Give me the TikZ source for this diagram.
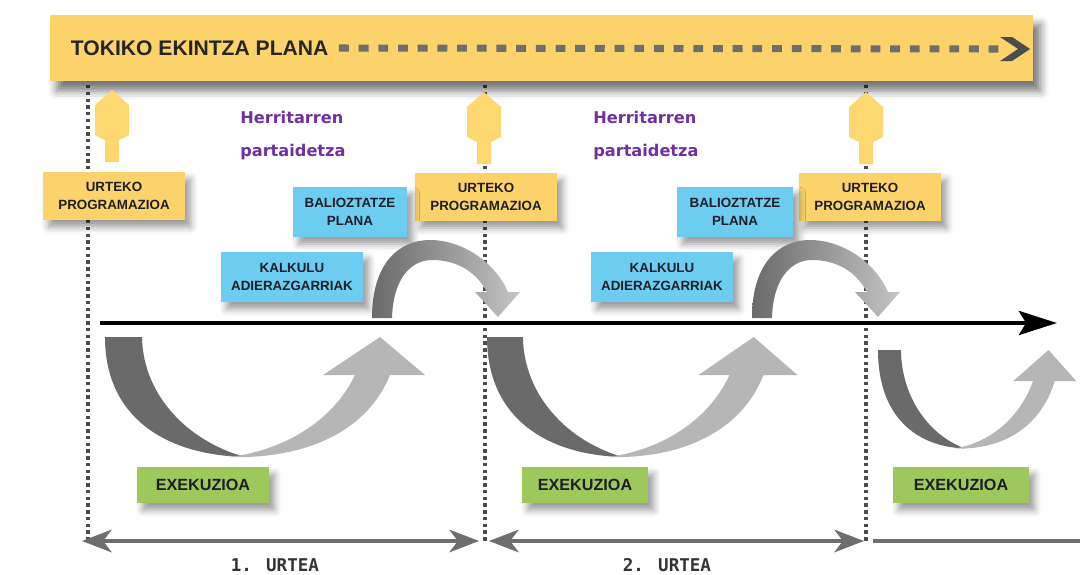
\documentclass[tikz,border=0pt]{standalone}
\usepackage{fontspec}
\setmainfont{Liberation Sans}
\newfontfamily\herrifont{DejaVu Sans}
\newfontfamily\urteafont{DejaVu Sans Mono}
\usetikzlibrary{arrows.meta, positioning, shadows.blur}

\definecolor{planyellow}{HTML}{FCD36B}
\definecolor{arrowyellow}{HTML}{FDD870}
\definecolor{planblue}{HTML}{6CCDF0}
\definecolor{exegreen}{HTML}{9DC95C}
\definecolor{herripurple}{HTML}{7030A0}
\definecolor{ugray}{HTML}{6A6A6A}
\definecolor{ulight}{HTML}{B6B6B6}
\definecolor{linegray}{HTML}{6E6E6E}
\definecolor{boxtext}{HTML}{1E1E28}

\tikzset{
  boxshadow/.style={blur shadow={shadow xshift=4pt, shadow yshift=-5pt, shadow blur radius=5pt, shadow opacity=40}},
  programa/.style={fill=planyellow, minimum width=3.55cm, minimum height=1.2cm, align=center, font=\fontsize{9.5}{12.5}\selectfont\bfseries, text=boxtext, boxshadow},
  balio/.style={programa, fill=planblue},
  exekuzio/.style={fill=exegreen, minimum width=3.3cm, minimum height=0.9cm, font=\fontsize{11.5}{13}\selectfont\bfseries, text=boxtext, boxshadow},
  herri/.style={text=herripurple, font=\herrifont\fontsize{11.5}{13}\selectfont\bfseries, inner sep=0pt},
  urtea/.style={text=black!80, font=\urteafont\fontsize{12.5}{14}\selectfont\bfseries},
  vline/.style={draw=black!70, line width=2.2pt, dash pattern=on 2.4pt off 2.4pt},
  yearline/.style={draw=linegray, line width=3pt},
  uparrow/.pic={
    \fill[arrowyellow] (0,0) -- (17,15) -- (17,45) -- (7,50) -- (7,72) -- (-7,72) -- (-7,50) -- (-17,45) -- (-17,15) -- cycle;
  },
  arch/.pic={
    \shade[left color=ugray, right color=ulight!80] (0,0) .. controls (0,-56) and (28,-78) .. (58,-78) .. controls (90,-78) and (123,-56) .. (136,-26) -- (148,-26) -- (126,-1) -- (103,-26) -- (115,-26) .. controls (103,-48) and (83,-58) .. (60,-58) .. controls (38,-58) and (21,-38) .. (20,0) -- cycle;
  },
  uturn/.pic={
    \fill[ugray] (0,0) -- (37,0) .. controls (38,60) and (85,105) .. (140,120) .. controls (60,118) and (0,80) .. (0,0) -- cycle;
    \fill[ulight] (125,120) .. controls (200,122) and (262,95) .. (285,38) -- (320,38) -- (275,0) -- (218,38) -- (250,38) .. controls (230,80) and (185,112) .. (125,120) -- cycle;
  }
}

\begin{document}
\begin{tikzpicture}[x=0.025cm, y=-0.025cm, >=Stealth]
\useasboundingbox (0,0) rectangle (1080,574);

% year borders
\coordinate (v1top) at (88,85);   \coordinate (v1bot) at (88,542);
\coordinate (v2top) at (485,85);  \coordinate (v2bot) at (485,542);
\coordinate (v3top) at (866,85);  \coordinate (v3bot) at (866,542);
\draw[vline] (v1top) -- (v1bot);
\draw[vline] (v2top) -- (v2bot);
\draw[vline] (v3top) -- (v3bot);

% plan bar
\node[fill=planyellow, minimum width=24.575cm, minimum height=1.65cm, blur shadow={shadow xshift=5pt, shadow yshift=-7pt, shadow blur radius=6pt, shadow opacity=55}] (plan) at (541.5,48) {};
\node[anchor=west, font=\fontsize{15}{17}\selectfont\bfseries, text=black!85] (title) at (66,48) {TOKIKO EKINTZA PLANA};
\coordinate (chev) at (1000,49);
\draw[linegray, line width=5pt, dash pattern=on 7pt off 7pt] ([xshift=4pt]title.east) -- (chev);
\fill[black!70] (chev) ++(0,-12) -- ++(12,0) -- ++(18,12) -- ++(-18,12) -- ++(-12,0) -- ++(18,-12) -- cycle;

\pic at (112,90) {uparrow};
\pic at (484,92) {uparrow};
\pic at (866,92) {uparrow};

\node[programa] (prog1) at (114,196) {URTEKO\\PROGRAMAZIOA};
\node[programa] (prog2) at (486,197) {URTEKO\\PROGRAMAZIOA};
\node[programa] (prog3) at (870,197) {URTEKO\\PROGRAMAZIOA};

\node[herri, anchor=west] (herri1) at (240,117) {Herritarren};
\node[herri, below right=0.52cm and 0cm of herri1.south west] (part1) {partaidetza};
\node[herri, anchor=west] (herri2) at (593,117) {Herritarren};
\node[herri, below right=0.52cm and 0cm of herri2.south west] (part2) {partaidetza};

\node[balio, minimum width=2.85cm, minimum height=1.25cm] (balio1) at (350,212) {BALIOZTATZE\\PLANA};
\node[balio, minimum height=1.25cm] (kalkulu1) at (292,277) {KALKULU\\ADIERAZGARRIAK};
\node[balio, minimum width=2.9cm, minimum height=1.25cm] (balio2) at (735,212) {BALIOZTATZE\\PLANA};
\node[balio, minimum height=1.25cm] (kalkulu2) at (662,277) {KALKULU\\ADIERAZGARRIAK};

\pic at (372,318) {arch};
\pic at (752,318) {arch};

% time axis
\coordinate (axstart) at (100,323);
\coordinate (axend) at (1057,323);
\draw[line width=3.5pt, -{Stealth[length=27pt, width=17pt, inset=5pt]}] (axstart) -- (axend);

\pic at (105,337) {uturn};
\pic[xscale=0.97] at (487,337) {uturn};
\pic[xscale=0.62, yscale=0.82] at (878,350) {uturn};

\node[exekuzio] (exek1) at (203,485) {EXEKUZIOA};
\node[exekuzio, minimum width=3.15cm] (exek2) at (585,485) {EXEKUZIOA};
\node[exekuzio, minimum width=3.4cm] (exek3) at (961,485) {EXEKUZIOA};

% years
\coordinate (y1a) at (82,541);  \coordinate (y1b) at (479,541);
\coordinate (y2a) at (489,541); \coordinate (y2b) at (864,541);
\coordinate (y3a) at (873,541); \coordinate (y3b) at (1080,541);
\draw[yearline, {Stealth[length=21pt, width=16pt, inset=6pt]}-{Stealth[length=21pt, width=16pt, inset=6pt]}] (y1a) -- (y1b);
\draw[yearline, {Stealth[length=21pt, width=16pt, inset=6pt]}-{Stealth[length=21pt, width=16pt, inset=6pt]}] (y2a) -- (y2b);
\draw[yearline] (y3a) -- (y3b);

\node[urtea] (urtea1) at (275,565) {1. URTEA};
\node[urtea] (urtea2) at (667,565) {2. URTEA};

\end{tikzpicture}
\end{document}
